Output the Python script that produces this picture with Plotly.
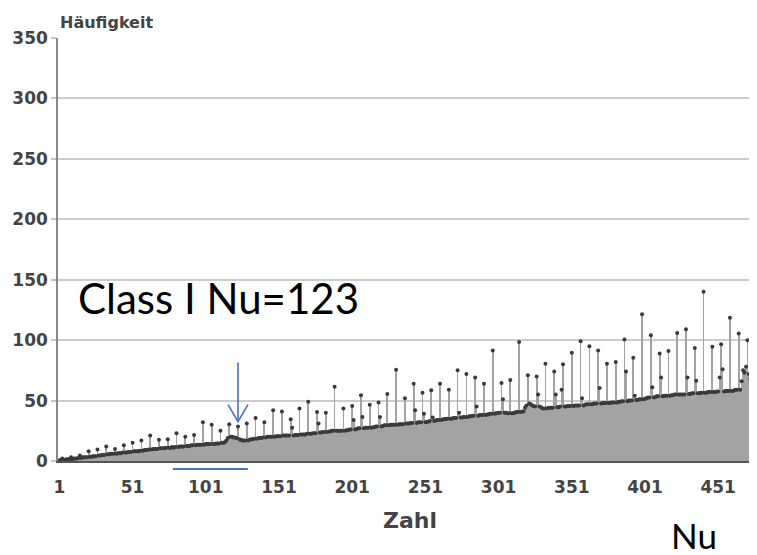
import plotly.graph_objects as go

# ---------------- data ----------------
zahl = list(range(1, 481))

haeufigkeit = [
    0.5, 1, 2, 1, 1, 1.5,
    1.5, 1.5, 3, 1.5, 2, 2,
    2, 2.5, 4.5, 2.5, 3, 3,
    3, 3, 8, 3.5, 3.5, 4,
    4, 4, 9.5, 4.5, 4.5, 5,
    5, 5, 12, 5.5, 5.5, 6,
    6, 6, 10, 6, 6.5, 6.5,
    6.5, 7, 13, 7, 7, 7.5,
    7.5, 7.5, 15, 8, 8, 8,
    8, 8.5, 17, 8.5, 9, 9,
    9, 9.5, 21, 9.5, 10, 10,
    10, 10, 17.5, 10.5, 10.5, 10.5,
    10.5, 11, 18, 11, 11, 11.5,
    11, 11.5, 23, 11.5, 12, 12,
    12, 12, 20, 12.5, 12.5, 12.5,
    13, 13, 21.5, 13, 13.5, 13.5,
    13.5, 13.5, 32, 13.5, 14, 14,
    14, 14, 30, 14, 14, 14.5,
    14.5, 14.5, 25, 15, 15, 15.5,
    17, 19, 30.5, 20, 20, 19.5,
    19.5, 19, 28.5, 18, 17.5, 17,
    17, 17, 31, 17, 17.5, 18,
    18, 18.5, 35.5, 18.5, 19, 19,
    19, 19.5, 32, 19.5, 20, 20,
    20, 20, 42, 20, 20.5, 20.5,
    20.5, 20.5, 41, 21, 21, 21,
    21, 21, 34.5, 27.5, 21, 21.5,
    21.5, 21.5, 43.5, 22, 22, 22,
    22, 22.5, 49, 22.5, 22.5, 23,
    23, 23, 40.5, 31, 23.5, 23.5,
    24, 24, 40, 24, 24.5, 24.5,
    25, 25, 61.5, 25, 25, 25,
    25, 25, 43.5, 25, 25.5, 25.5,
    26, 26, 45.5, 34, 26, 26.5,
    27, 27, 54.5, 36.5, 27, 27.5,
    27.5, 27.5, 46.5, 27.5, 28, 28,
    28.5, 28.5, 48.5, 36.5, 28.5, 29,
    29.5, 29.5, 55.5, 29.5, 30, 30,
    30, 30, 75.5, 30, 30.5, 30.5,
    30.5, 30.5, 52, 31, 31, 31,
    31.5, 31.5, 64, 42, 31.5, 32,
    32, 32, 56.5, 39, 32, 32.5,
    32.5, 33, 58.5, 36, 33, 33.5,
    34, 34, 64, 34, 34.5, 34.5,
    35, 35, 59, 35, 35, 35.5,
    35.5, 35.5, 75, 40, 36, 36,
    36.5, 36.5, 72, 36.5, 37, 37,
    37.5, 37.5, 69, 45, 37.5, 38,
    38, 38, 64, 38, 38.5, 38.5,
    39, 39, 91.5, 39, 39.5, 39.5,
    40, 40, 64.5, 51, 40, 40,
    39.5, 39.5, 67, 39.5, 39.5, 40,
    40.5, 40.5, 98.5, 40.5, 41, 41,
    44, 46, 71, 47.5, 47, 46,
    45.5, 45, 70, 55, 45, 44.5,
    43.5, 43.5, 80.5, 43.5, 44, 44,
    44, 44, 74, 55, 44.5, 44.5,
    45, 59, 80, 45, 45, 45.5,
    45.5, 45.5, 89.5, 45.5, 46, 46,
    46, 46, 99, 52, 46, 46.5,
    47, 47, 95, 47, 47, 47.5,
    47.5, 47.5, 91.5, 60.5, 47.5, 48,
    48, 48, 80.5, 48, 48, 48.5,
    48.5, 48.5, 82, 48.5, 49, 49,
    49.5, 49.5, 100.5, 74, 49.5, 50,
    50, 50, 85.5, 54, 50.5, 50.5,
    51, 51, 121.5, 51, 51.5, 52,
    52.5, 52.5, 104, 61, 52.5, 53,
    53.5, 53.5, 89, 69, 53.5, 54,
    54, 54, 91, 54, 54.5, 54.5,
    55, 55, 106, 55, 55, 55,
    55, 55, 109, 69, 55.5, 55.5,
    56, 56, 93.5, 66.5, 56, 56,
    56.5, 56.5, 140, 56.5, 56.5, 57,
    57, 57, 94.5, 57, 57, 57.5,
    57.5, 69, 96.5, 76, 57.5, 58,
    58, 58, 118.5, 58, 58, 58.5,
    59, 59, 105.5, 59, 66, 75,
    73, 78, 100, 72, 68, 66,
    66, 67.5, 115, 66, 66, 66,
]

x_tick_vals = [1, 51, 101, 151, 201, 251, 301, 351, 401, 451]
y_tick_vals = [0, 50, 100, 150, 200, 250, 300, 350]

class_nu = 123
class_span = [78.5, 129.7]
class_label = "Class I Nu=123"

# ---------------- figure ----------------
BLUE = "#4472C4"
TXT = "#444444"
AXFONT = dict(family="DejaVu Sans", size=17, color=TXT, weight="bold")

fig = go.Figure()
fig.add_trace(go.Bar(
    x=zahl, y=haeufigkeit, width=0.5,
    marker=dict(color="#a3a3a3", line=dict(width=0)),
    hoverinfo="skip", showlegend=False,
))
fig.add_trace(go.Scatter(
    x=zahl, y=haeufigkeit, mode="markers",
    marker=dict(size=4, color="#3a3a3a"),
    showlegend=False,
))

# the page body adds an 8px offset, so the figure is 8px smaller on each side
fig.update_layout(
    template="none",
    width=749, height=547,
    margin=dict(l=50, r=0, t=30, b=94, pad=0, autoexpand=False),
    plot_bgcolor="white", paper_bgcolor="white",
    xaxis=dict(
        automargin=False,
        range=[0.05, 477.5], tickmode="array", tickvals=x_tick_vals,
        showgrid=False, zeroline=False,
        showline=True, linecolor="#555555", linewidth=2,
        ticks="outside", ticklen=10, tickcolor="rgba(0,0,0,0)",
        tickfont=AXFONT,
    ),
    yaxis=dict(
        automargin=False,
        range=[0, 350], tickmode="array", tickvals=y_tick_vals,
        showgrid=True, gridcolor="#cccccc", gridwidth=1.5,
        zeroline=False,
        showline=True, linecolor="#888888", linewidth=1.5,
        ticks="outside", ticklen=5, tickcolor="#c4c4c4", tickwidth=1.5,
        tickfont=AXFONT,
    ),
)

# axis titles as in the original (top-left and below axis)
fig.add_annotation(text="Häufigkeit", xref="paper", yref="paper", x=0, y=1,
                   xanchor="left", yanchor="bottom", yshift=4, showarrow=False,
                   font=dict(family="DejaVu Sans", size=16, color=TXT, weight="bold"))
fig.add_annotation(text="Zahl", xref="paper", yref="paper", x=0.5036, y=-0.141,
                   xanchor="center", yanchor="middle", showarrow=False,
                   font=dict(family="DejaVu Sans", size=22, color=TXT, weight="bold"))

# overlaid annotations
fig.add_annotation(text=class_label, xref="paper", yref="paper", x=0.2303, y=0.385,
                   xanchor="center", yanchor="middle", showarrow=False,
                   font=dict(family="Lato", size=42, color="black"))
fig.add_annotation(text="Nu", xref="paper", yref="paper", x=0.91, y=-0.175,
                   xanchor="center", yanchor="middle", showarrow=False,
                   borderpad=0,
                   font=dict(family="Lato", size=35, color="black"))

# blue arrow pointing at Nu=123
fig.add_shape(type="line", xref="x", yref="y", x0=class_nu, x1=class_nu, y0=81.5, y1=32.6,
              line=dict(color=BLUE, width=1.6))
fig.add_shape(type="path", xref="x", yref="y",
              path=f"M {class_nu-6.8},46.7 L {class_nu},32.6 L {class_nu+6.8},46.7",
              line=dict(color=BLUE, width=1.6))
# blue underline of the class range
fig.add_shape(type="line", xref="x", yref="paper", x0=class_span[0], x1=class_span[1],
              y0=-0.019, y1=-0.019, line=dict(color=BLUE, width=2))

fig.write_html("out.html")
